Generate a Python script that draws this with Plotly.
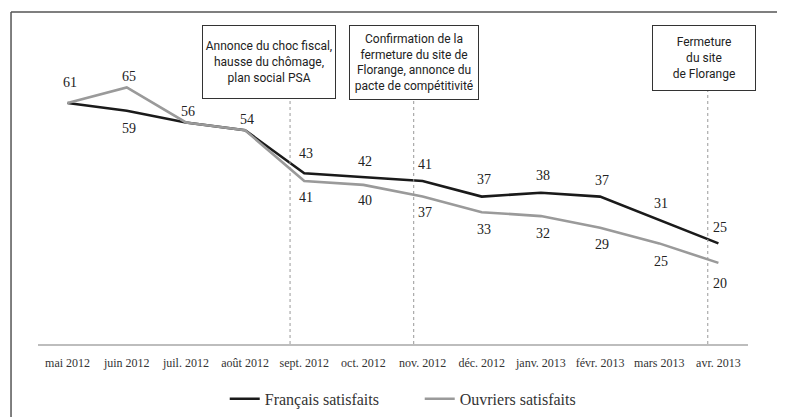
import plotly.graph_objects as go

months = ["mai 2012", "juin 2012", "juil. 2012", "août 2012", "sept. 2012", "oct. 2012",
          "nov. 2012", "déc. 2012", "janv. 2013", "févr. 2013", "mars 2013", "avr. 2013"]
francais = [61, 59, 56, 54, 43, 42, 41, 37, 38, 37, 31, 25]
ouvriers = [61, 65, 56, 54, 41, 40, 37, 33, 32, 29, 25, 20]
events = ["Annonce du choc fiscal,<br>hausse du chômage,<br>plan social PSA",
          "Confirmation de la<br>fermeture du site de<br>Florange, annonce du<br>pacte de compétitivité",
          "Fermeture<br>du site<br>de Florange"]

# label placement (style): pixel shift per point, None = no label
fr_shift = [20, -18, 11, 11, 20, 16, 16, 17, 17, 16, 16, 16]
ou_shift = [None, 11, None, None, -17, -16, -16, -17, -17, -17, -18, -21]

x = list(range(len(months)))
SANS = "Roboto, Liberation Sans, sans-serif"
SERIF = "Liberation Serif, Times New Roman, serif"

fig = go.Figure()
fig.add_trace(go.Scatter(x=x, y=francais, mode="lines", name="Français satisfaits",
                         line=dict(color="#1a1a1a", width=2.6)))
fig.add_trace(go.Scatter(x=x, y=ouvriers, mode="lines", name="Ouvriers satisfaits",
                         line=dict(color="#9a9a9a", width=2.6)))

annotations = []
for i, v in enumerate(francais):
    annotations.append(dict(x=x[i], y=v, text=str(v), showarrow=False, yshift=fr_shift[i],
                            xshift=2, font=dict(family=SERIF, size=14, color="#222")))
for i, v in enumerate(ouvriers):
    if ou_shift[i] is None:
        continue
    annotations.append(dict(x=x[i], y=v, text=str(v), showarrow=False, yshift=ou_shift[i],
                            xshift=2, font=dict(family=SERIF, size=14, color="#222")))

# event boxes and dotted markers
box_x = [3.40, 5.86, 10.76]
line_x = [3.76, 5.85, 10.82]
line_top = [0.788, 0.782, 0.811]
box_w = [130, 126, 100]
box_h = [70, 71, 62]
for bx, lx, lt, txt, w, h in zip(box_x, line_x, line_top, events, box_w, box_h):
    annotations.append(dict(x=bx, y=1.022, xref="x", yref="paper", xanchor="center", yanchor="top",
                            text=txt, showarrow=False, align="center", width=w, height=h,
                            bordercolor="#333", borderwidth=1, borderpad=1, bgcolor="white",
                            font=dict(family=SANS, size=12, color="#222")))
    fig.add_shape(type="line", xref="x", yref="paper", x0=lx, x1=lx, y0=0, y1=lt,
                  line=dict(color="#999", width=1, dash="dot"))

# outer frame (partially visible)
fig.add_shape(type="line", xref="paper", yref="paper", x0=-0.038, x1=-0.038, y0=-0.3, y1=1.064,
              line=dict(color="#555", width=1.5))
fig.add_shape(type="line", xref="paper", yref="paper", x0=-0.038, x1=1.1, y0=1.064, y1=1.064,
              line=dict(color="#555", width=1.5))

fig.update_layout(
    width=777, height=409,
    margin=dict(l=30, r=37, t=24, b=73, autoexpand=False),
    paper_bgcolor="white", plot_bgcolor="white",
    annotations=annotations,
    showlegend=True,
    legend=dict(orientation="h", x=0.263, xanchor="left", y=-0.176, yanchor="middle",
                font=dict(family=SERIF, size=16, color="#333"), entrywidth=150,
                entrywidthmode="pixels"),
    xaxis=dict(range=[-0.5, 11.5], tickvals=x, ticktext=months, showgrid=False, zeroline=False,
               showline=True, linecolor="#bdbdbd", linewidth=2, ticks="outside", ticklen=7,
               tickcolor="rgba(0,0,0,0)", automargin=False,
               tickfont=dict(family=SERIF, size=12, color="#333")),
    yaxis=dict(range=[-0.8, 79.2], visible=False, showgrid=False, zeroline=False, automargin=False),
)

fig.write_html("out.html")
